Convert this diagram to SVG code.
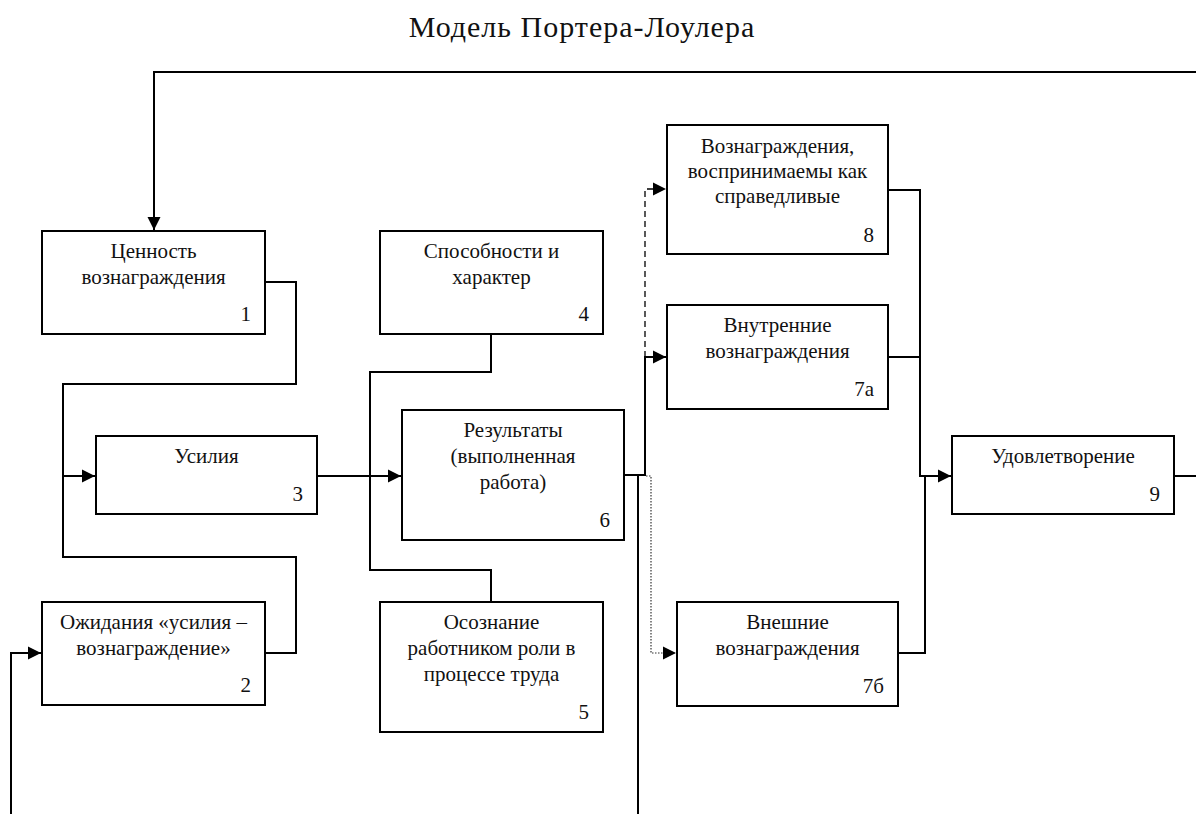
<svg xmlns="http://www.w3.org/2000/svg" width="1196" height="814" viewBox="0 0 1196 814">
<style>
.box{fill:#fff;stroke:#000;stroke-width:2}
.t{font-family:"Liberation Serif","Times New Roman",serif;font-size:21px;fill:#111;text-anchor:middle}
.n{font-family:"Liberation Serif","Times New Roman",serif;font-size:21px;fill:#111;text-anchor:end}
.title{font-family:"Liberation Serif","Times New Roman",serif;font-size:30px;letter-spacing:1px;fill:#111;text-anchor:middle}
.c{fill:none;stroke:#000;stroke-width:2}
.dash{fill:none;stroke:#000;stroke-width:1.3;stroke-dasharray:6 4}
.dot{fill:none;stroke:#333;stroke-width:1.2;stroke-dasharray:1.5 1.5}
</style>
<defs>
<marker id="arr" markerUnits="userSpaceOnUse" markerWidth="14" markerHeight="14" refX="13" refY="7" orient="auto">
<path d="M0,0.5 L13,7 L0,13.5 Z" fill="#000"/>
</marker>
</defs>
<rect width="1196" height="814" fill="#fff"/>
<text class="title" x="582" y="37">Модель Портера-Лоулера</text>

<g id="connectors">
<path class="c" d="M1196,72 H154 V230" marker-end="url(#arr)"/>
<path class="c" d="M265,282 H296 V384 H63 V557 H296 V653 H265"/>
<path class="c" d="M63,476 H95" marker-end="url(#arr)"/>
<path class="c" d="M11,814 V653 H41" marker-end="url(#arr)"/>
<path class="c" d="M317,476 H401" marker-end="url(#arr)"/>
<path class="c" d="M491,334 V372 H370 V570 H491 V602"/>
<path class="c" d="M624,475 H645 V357 H666" marker-end="url(#arr)"/>
<path class="dash" d="M645,357 V189 H666" marker-end="url(#arr)"/>
<path class="c" d="M638,475 V814"/>
<path class="dot" d="M646,476 H651 V653 H676" marker-end="url(#arr)"/>
<path class="c" d="M888,190 H920 V476 H951" marker-end="url(#arr)"/>
<path class="c" d="M888,357 H920"/>
<path class="c" d="M898,653 H925 V476"/>
<path class="c" d="M1174,476 H1196"/>
</g>

<g id="n1">
<rect class="box" x="42" y="231" width="223" height="103"/>
<text class="t" x="153.5" y="258">Ценность</text>
<text class="t" x="153.5" y="284">вознаграждения</text>
<text class="n" x="251" y="321">1</text>
</g>
<g id="n4">
<rect class="box" x="380" y="231" width="223" height="103"/>
<text class="t" x="491.5" y="258">Способности и</text>
<text class="t" x="491.5" y="284">характер</text>
<text class="n" x="589" y="321">4</text>
</g>
<g id="n8">
<rect class="box" x="667" y="125" width="221" height="129"/>
<text class="t" x="777.5" y="153">Вознаграждения,</text>
<text class="t" x="777.5" y="178">воспринимаемы как</text>
<text class="t" x="777.5" y="203">справедливые</text>
<text class="n" x="874" y="242">8</text>
</g>
<g id="n7a">
<rect class="box" x="667" y="305" width="221" height="104"/>
<text class="t" x="777.5" y="332">Внутренние</text>
<text class="t" x="777.5" y="358">вознаграждения</text>
<text class="n" x="874" y="396">7а</text>
</g>
<g id="n3">
<rect class="box" x="96" y="436" width="221" height="78"/>
<text class="t" x="206.5" y="463">Усилия</text>
<text class="n" x="303" y="501">3</text>
</g>
<g id="n6">
<rect class="box" x="402" y="410" width="222" height="130"/>
<text class="t" x="513" y="437">Результаты</text>
<text class="t" x="513" y="463">(выполненная</text>
<text class="t" x="513" y="489">работа)</text>
<text class="n" x="610" y="527">6</text>
</g>
<g id="n9">
<rect class="box" x="952" y="436" width="222" height="78"/>
<text class="t" x="1063" y="463">Удовлетворение</text>
<text class="n" x="1160" y="501">9</text>
</g>
<g id="n2">
<rect class="box" x="42" y="602" width="223" height="103"/>
<text class="t" x="153.5" y="629">Ожидания «усилия –</text>
<text class="t" x="153.5" y="655">вознаграждение»</text>
<text class="n" x="251" y="692">2</text>
</g>
<g id="n5">
<rect class="box" x="380" y="602" width="223" height="130"/>
<text class="t" x="491.5" y="629">Осознание</text>
<text class="t" x="491.5" y="655">работником роли в</text>
<text class="t" x="491.5" y="681">процессе труда</text>
<text class="n" x="589" y="719">5</text>
</g>
<g id="n7b">
<rect class="box" x="677" y="602" width="221" height="104"/>
<text class="t" x="787.5" y="629">Внешние</text>
<text class="t" x="787.5" y="655">вознаграждения</text>
<text class="n" x="884" y="693">7б</text>
</g>
</svg>
